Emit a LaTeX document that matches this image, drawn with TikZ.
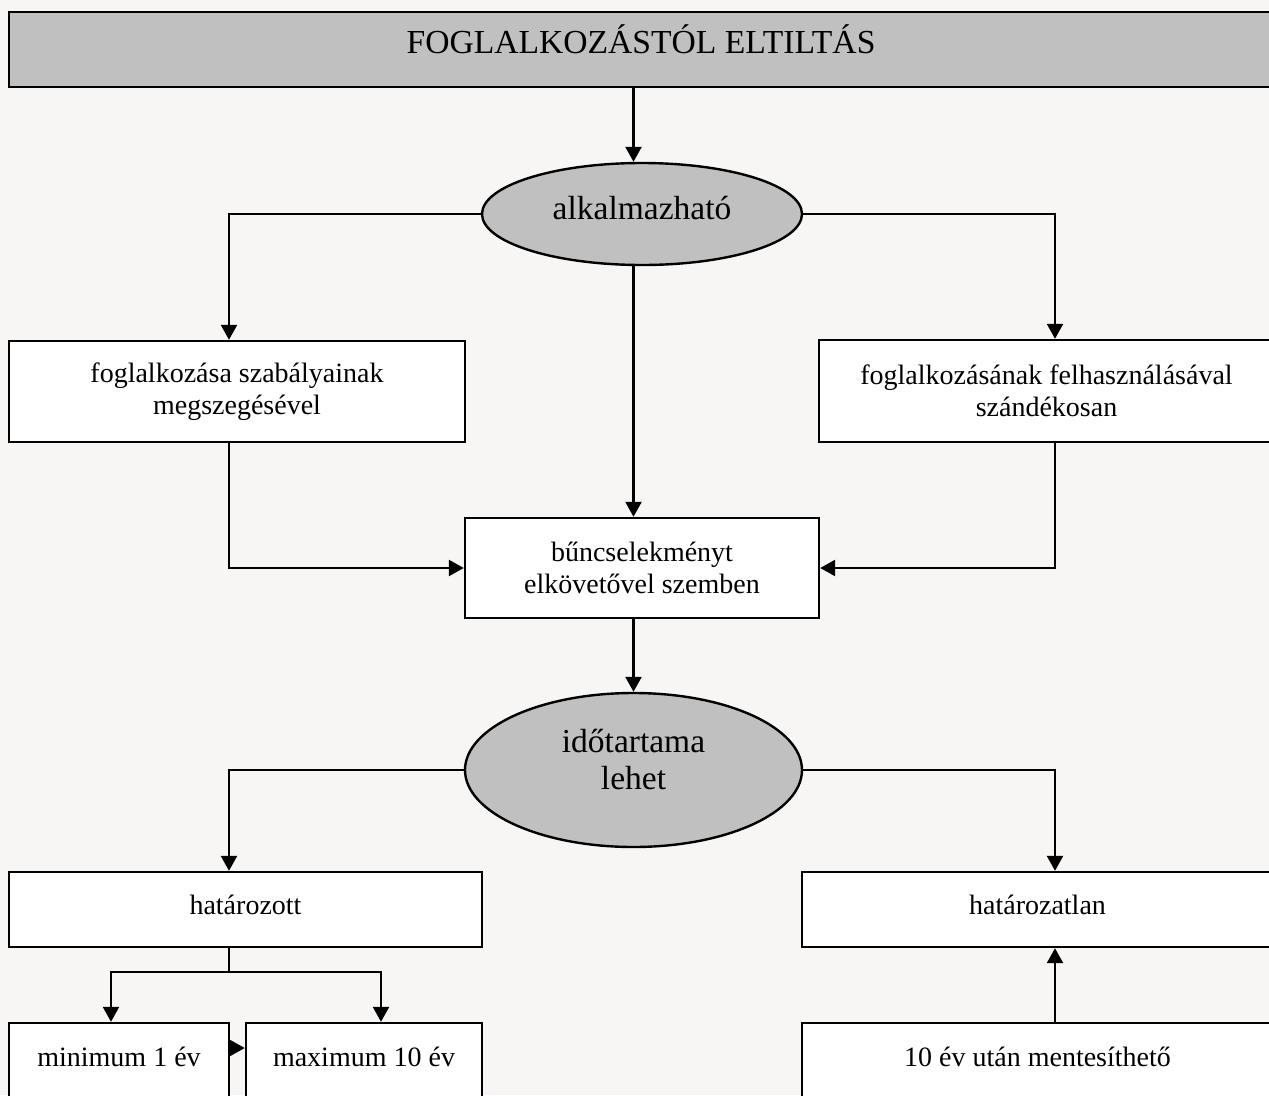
\documentclass[tikz,border=0pt]{standalone}
\usepackage{fontspec}
\setmainfont{Liberation Serif}
\usetikzlibrary{arrows.meta,shapes.geometric}
\definecolor{paper}{HTML}{F7F6F4}
\definecolor{shade}{HTML}{C0C0C0}
\tikzset{>={Triangle[length=15pt,width=16pt]},
	box/.style={draw, fill=white, rectangle, inner sep=0pt, align=center,
		font=\fontsize{28pt}{32pt}\selectfont},
	onebox/.style={box, text height=19pt, text depth=10pt},
	cutbox/.style={box, text height=19pt, text depth=33pt},
	titlebox/.style={box, fill=shade, text height=20pt, text depth=13pt,
		font=\fontsize{33.6pt}{38pt}\selectfont},
	oval/.style={draw, fill=shade, ellipse, inner sep=0pt, align=center,
		font=\fontsize{33.5pt}{37pt}\selectfont}}

\begin{document}
\begin{tikzpicture}[x=1pt, y=-1pt, line width=2.4pt]
	\useasboundingbox (0,0) rectangle (1269,1095);
	\fill[paper] (0,0) rectangle (1269,1095);
	\begin{scope}
	\clip (0,0) rectangle (1269,1095);
	\node[titlebox, minimum width=1264, minimum height=75] (title) at (641,49.5) {FOGLALKOZÁSTÓL ELTILTÁS};
	\node[oval, minimum width=320, minimum height=102, text height=23pt, text depth=13pt] (app) at (642,214) {alkalmazható};
	\node[box, minimum width=456, minimum height=101] (rule) at (237,391.5) {foglalkozása szabályainak\\megszegésével};
	\node[box, minimum width=455, minimum height=102] (misuse) at (1046.5,391) {foglalkozásának felhasználásával\\szándékosan};
	\node[box, minimum width=354, minimum height=100] (crime) at (642,568) {bűncselekményt\\elkövetővel szemben};
	\node[oval, minimum width=337, minimum height=154, text depth=22pt] (dur) at (633.5,770) {időtartama\\lehet};
	\node[onebox, minimum width=473, minimum height=75] (fixed) at (245.5,909.5) {határozott};
	\node[onebox, minimum width=471, minimum height=75] (indef) at (1037.5,909.5) {határozatlan};
	\node[cutbox, minimum width=220, minimum height=100] (minbox) at (119,1073) {minimum 1 év};
	\node[cutbox, minimum width=236, minimum height=100] (maxbox) at (364,1073) {maximum 10 év};
	\node[cutbox, minimum width=471, minimum height=100] (exempt) at (1037.5,1073) {10 év után mentesíthető};
	\coordinate (spine) at (633.5,0);
	\coordinate (lx) at (229,0);
	\coordinate (rx) at (1055,0);
	\coordinate (mlx) at (111,0);
	\coordinate (mrx) at (381,0);
	\coordinate (fork) at (229,972);
	\coordinate (midrow) at (0,1048);
	\draw[->] (title.south -| spine) -- (app.north -| spine);
	\draw[->] (app.west) -| (rule.north -| lx);
	\draw[->] (app.east) -| (misuse.north -| rx);
	\draw[->] (app.south -| spine) -- (crime.north -| spine);
	\draw[->] (rule.south -| lx) |- (crime.west);
	\draw[->] (misuse.south -| rx) |- (crime.east);
	\draw[->] (crime.south -| spine) -- (dur.north);
	\draw[->] (dur.west) -| (fixed.north -| lx);
	\draw[->] (dur.east) -| (indef.north -| rx);
	\draw (fixed.south -| lx) -- (fork);
	\draw[->] (fork) -| (minbox.north -| mlx);
	\draw[->] (fork) -| (maxbox.north -| mrx);
	\draw[->] (minbox.east |- midrow) -- (maxbox.west |- midrow);
	\draw[->] (exempt.north -| rx) -- (indef.south -| rx);
	\end{scope}
\end{tikzpicture}
\end{document}
